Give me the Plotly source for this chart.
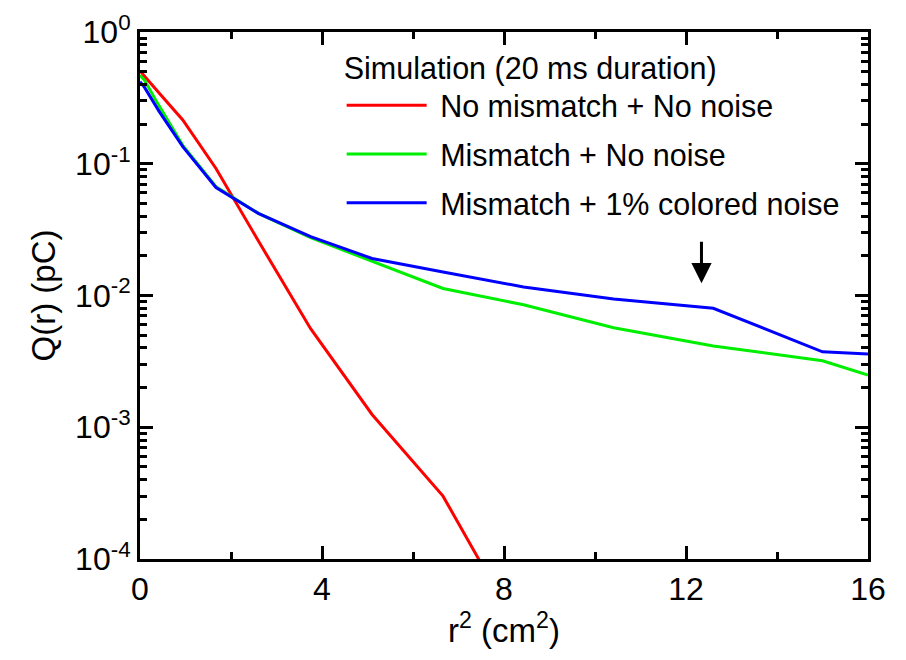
import math
import plotly.graph_objects as go

# r^2 grid (cm^2)
r2 = [0, 0.10, 0.42, 0.94, 1.67, 2.60, 3.75, 5.10, 6.66, 8.43, 10.41, 12.60, 15.00, 16.00]

# Q(r) in pC
q_no_mismatch = [0.506, 0.46, 0.345, 0.215, 0.092, 0.026, 0.0056, 0.00125, 0.00030, 0.000025]
q_mismatch = [0.47, 0.43, 0.275, 0.138, 0.067, 0.042, 0.0275, 0.0181, 0.0113, 0.0085, 0.0057, 0.00414, 0.0032, 0.00249]
q_mismatch_noise = [0.42, 0.38, 0.25, 0.135, 0.066, 0.042, 0.028, 0.0191, 0.0151, 0.0116, 0.0094, 0.0080, 0.00374, 0.0036]

names = ["No mismatch + No noise", "Mismatch + No noise", "Mismatch + 1% colored noise"]
colors = ["#ff0000", "#00ee00", "#0000ff"]

x_ticks = [0, 4, 8, 12, 16]
x_minor = [2, 6, 10, 14]
y_ticks = [1e-4, 1e-3, 1e-2, 1e-1, 1]
y_ticktext = ["10<sup>-4</sup>", "10<sup>-3</sup>", "10<sup>-2</sup>", "10<sup>-1</sup>", "10<sup>0</sup>"]
y_minor = [m * 10.0 ** e for e in range(-4, 0) for m in range(2, 10)]

arrow_x = 12.34
arrow_q = 0.01240

FONT = "Liberation Sans, Arial, sans-serif"

fig = go.Figure()
series = [q_no_mismatch, q_mismatch, q_mismatch_noise]
for i, (nm, col, q) in enumerate(zip(names, colors, series)):
    fig.add_trace(go.Scatter(
        x=r2[:len(q)], y=q, mode="lines", name="\u00a0" + nm,
        line=dict(color=col, width=3),
        legendgroup=str(i),
    ))

fig.add_annotation(
    x=arrow_x, y=math.log10(arrow_q), xref="x", yref="y",
    ax=0, ay=-43, axref="pixel", ayref="pixel",
    showarrow=True, arrowhead=2, arrowsize=1.35, arrowwidth=3,
    arrowcolor="black", text="",
)

axis_common = dict(
    showline=True, linewidth=3, linecolor="black", mirror="allticks",
    ticks="inside", tickwidth=3, tickcolor="black", showgrid=False, zeroline=False,
    tickfont=dict(family=FONT, size=32, color="black"),
)

fig.update_xaxes(
    range=[0, 16], tickmode="array", tickvals=x_ticks, ticklen=13,
    minor=dict(tickmode="array", tickvals=x_minor, ticklen=7, tickwidth=3, ticks="inside", tickcolor="black"),
    title=dict(text="r<sup>2</sup> (cm<sup>2</sup>)", font=dict(family=FONT, size=33, color="black"), standoff=13),
    **axis_common,
)
fig.update_yaxes(
    type="log", range=[-4, 0], tickmode="array", tickvals=y_ticks, ticktext=y_ticktext, ticklen=13,
    minor=dict(tickmode="array", tickvals=y_minor, ticklen=7, tickwidth=3, ticks="inside", tickcolor="black"),
    title=dict(text="Q(r) (pC)", font=dict(family=FONT, size=33, color="black"), standoff=10),
    **axis_common,
)

fig.update_layout(
    width=906, height=660,
    margin=dict(l=140, r=38, t=32, b=101, autoexpand=False),
    paper_bgcolor="white", plot_bgcolor="white",
    showlegend=True,
    legend=dict(
        x=0.277, y=0.986, xanchor="left", yanchor="top",
        bgcolor="rgba(0,0,0,0)", borderwidth=0,
        font=dict(family=FONT, size=30.5, color="black"),
        title=dict(text="Simulation (20 ms duration)", font=dict(family=FONT, size=30.5, color="black")),
        itemwidth=80, tracegroupgap=6,
    ),
)

fig.write_html("out.html")
